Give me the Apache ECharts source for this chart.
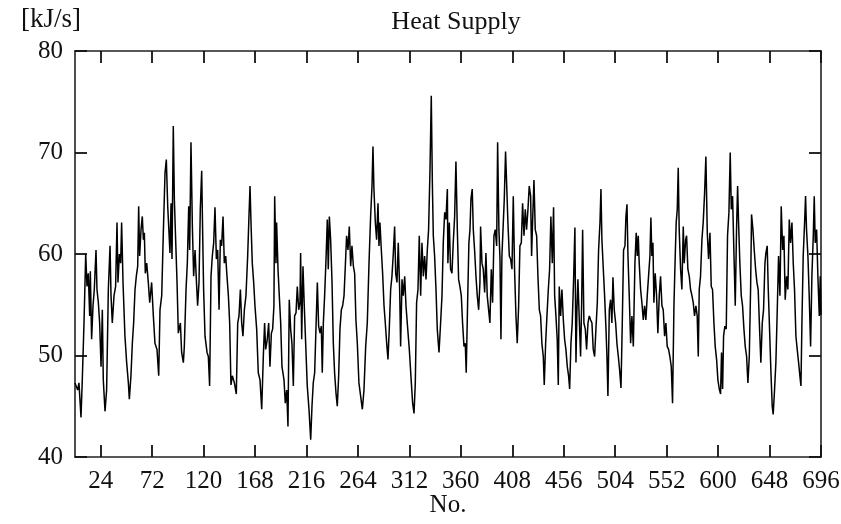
<!DOCTYPE html>
<html>
<head>
<meta charset="utf-8">
<script src="https://cdn.jsdelivr.net/npm/echarts@6/dist/echarts.min.js"></script>
<style>html,body{margin:0;padding:0;background:#fff}#c{width:841px;height:524px}</style>
</head>
<body>
<div id="c"></div>
<script>
// Data: [No., heat supply in kJ/s]
const heatSupply = [
[0,47.3],[2.5,46.6],[3.7,47.3],[5.6,43.9],[6.8,47.6],[8.4,53.2],[10,60],[11.2,56.8],[12.4,58.1],[13.7,53.9],[14.3,58.3],[15.5,51.6],[16.8,54.9],[18,56.5],[19.6,60.4],[20.5,56.5],[21.8,55.2],[23,53.2],[24.3,48.9],[25.5,54.5],[26.4,47.6],[28,44.5],[29.5,46.6],[31.1,56.5],[32.7,60.8],[33.6,55.9],[34.8,53.2],[36.4,55.9],[37.9,56.8],[39.2,63.1],[40.1,57.2],[41.4,60],[42.6,59.1],[43.5,63.1],[44.8,57.2],[46.6,51.9],[48.2,49.3],[49.8,47.3],[50.7,45.7],[52.2,48],[53.5,51.2],[54.7,53.2],[56,56.5],[57.2,57.8],[58.5,58.8],[59.4,64.7],[60.3,59.8],[61.6,62.4],[62.8,63.7],[63.8,61.4],[64.7,62.1],[65.6,58.1],[66.9,59.1],[68.4,57.2],[69.7,55.2],[71.5,57.2],[73.1,53.9],[74.6,51.2],[76.5,50.6],[78.1,48],[79.3,54.5],[80.9,55.9],[82.4,62.1],[84,68],[85.2,69.3],[86.5,64.7],[87.7,62.1],[88.6,60.1],[89.6,65],[90.5,59.5],[91.7,72.6],[92.7,65.4],[93.9,61.4],[95.2,57.2],[96.4,52.2],[98.3,53.2],[99.5,50.3],[101.1,49.3],[102,50.9],[103.6,56.5],[104.8,59.1],[106.1,64.7],[107,60.4],[108.2,71],[109.5,62.7],[110.7,57.8],[112,60.4],[113.2,57.5],[114.4,54.9],[115.7,57.2],[116.9,64.4],[118.2,68.2],[119.1,62.1],[120,56.5],[121.3,51.9],[123.2,50.3],[124.4,49.9],[125.6,47],[126.9,57.8],[128.1,59.8],[129.4,61.1],[130.6,64.6],[131.9,59.5],[133.1,60.4],[134.4,54.5],[135.6,61.4],[136.8,60.8],[138.1,63.7],[139.3,59.1],[140.6,59.8],[141.8,57.8],[143.1,55.9],[144.3,53.2],[145.5,47.1],[146.8,48],[148.7,47.3],[150.5,46.2],[151.8,53.2],[153,53.9],[154.3,56.5],[155.5,53.2],[156.7,51.9],[158,54.5],[159.5,55.9],[161.1,59.8],[162.3,63.7],[163.3,66.7],[164.2,63.1],[165.4,59.1],[166.7,57.2],[167.9,54.9],[169.5,52.6],[171,48.3],[172.6,47.6],[174.2,44.7],
[175.7,49.9],[176.9,53.2],[177.9,50.6],[179.4,51.6],[180.7,53.2],[181.9,48.9],[183.2,52.2],[184.4,52.6],[185.6,54.9],[186.3,65.7],[187.5,59.1],[188.1,63.1],[189.4,58.5],[190.6,55.9],[191.9,53.2],[193.1,48.9],[195,47.6],[196.2,45.3],[197.5,46.6],[198.7,43],[199.9,55.5],[201.2,52.6],[202.4,51.2],[203.7,47],[204.9,53.9],[206.2,54.2],[207.4,56.8],[208.7,54.5],[209.9,55.2],[210.5,60.1],[211.5,51.6],[212.7,58.8],[213.9,54.9],[215.2,51.2],[216.7,47],[218.3,44.7],[219.9,41.7],[221.1,45],[222.3,47.3],[223.6,48.3],[224.8,52.6],[226.1,57.2],[227.3,52.9],[228.6,52.2],[229.8,52.9],[230.7,48.3],[231.7,53.2],[232.9,55.9],[234.2,59.5],[235.4,63.4],[236.3,58.5],[237.3,63.7],[238.5,61.4],[239.8,57.2],[241,51.2],[242.2,48.3],[243.5,46.3],[244.7,45],[246,48],[247.2,52.6],[248.5,54.5],[249.7,54.9],[251,55.9],[252.2,58.8],[253.4,61.8],[254.7,60.4],[255.9,62.7],[257.2,58.8],[258.4,60.8],[259.7,58.8],[260.9,58.1],[262.1,53.5],[263.4,51.2],[264.9,47.3],[266.5,46],[268.1,44.7],[269.6,46.6],[271.2,50.9],[272.7,53.2],[274.3,59.1],[275.8,63.7],[277.1,66.7],[278,70.6],[278.9,66.4],[280.2,63.1],[281.4,61.4],[282.7,65],[283.6,60.8],[284.5,63.1],[285.8,60.4],[287,58.1],[288.3,54.9],[289.5,53.2],[290.8,51.2],[292,49.6],[293.2,52.6],[294.5,56.5],[295.7,57.8],[297,60.1],[298.2,62.7],[299.2,58.1],[300.4,57.2],[301.6,61.1],[302.9,56.5],[303.8,50.9],[305.1,57.5],[306.3,55.9],[307.6,57.8],[308.8,54.9],[310,53.2],[311.9,50.6],[313.8,47.3],[315,45.3],[316.3,44.3],[317.5,47.3],[318.7,55.2],[320,56.5],[321.2,61.8],[322.5,55.9],[323.7,61.1],[325,57.8],[326.2,59.8],[327.5,57.5],[328.7,60.4],[329.9,62.4],[331.2,68.3],[332.4,75.6],[333.4,67],[334.3,61.8],[335.5,59.8],[336.8,56.5],[338,52.6],[339.6,50.3],[341.1,53.2],[342.4,55.9],[343.6,61.1],[344.9,64.1],[346.1,63.4],[347.4,66.4],
[347.9,59.1],[349.2,63.1],[350.4,58.5],[351.7,58.1],[352.9,61.1],[354.2,63.7],[355.4,69.1],[356.7,62.4],[357.9,57.5],[359.1,56.8],[360.4,55.9],[361.6,53.2],[362.9,50.9],[364.1,51.2],[365,48.3],[366.3,55.2],[367.5,61.1],[368.5,62.4],[369.4,65.4],[370.6,66.4],[371.6,62.4],[372.8,60.4],[374.1,57.8],[375.3,55.9],[376.6,54.5],[377.8,57.2],[378.4,62.7],[379.7,59.1],[380.9,58.5],[382.2,56.2],[383.4,60.1],[384.6,55.9],[385.9,54.5],[387.1,53.2],[388.4,58.5],[389.6,55.2],[390.9,61.8],[392.1,62.4],[393.4,60.8],[394.3,71],[395.5,62.4],[396.5,59.5],[397.4,51.6],[398.3,59.8],[399.6,63.1],[400.5,65.4],[401.7,70.1],[402.7,67],[403.9,63.1],[405.2,59.8],[406.4,59.5],[407.7,58.5],[408.9,65.7],[410.1,58.5],[411.4,53.9],[412.6,51.2],[413.9,54.9],[415.1,60.8],[416.4,61.1],[417.6,65],[418.9,61.8],[420.1,64.4],[421.3,62.4],[422.6,64.4],[423.8,66.7],[425.1,65.7],[426,59.8],[426.9,63.1],[428.2,67.3],[429.4,62.4],[430.7,61.8],[431.9,57.8],[433.2,54.5],[434.4,53.9],[435.6,51.2],[436.9,49.9],[437.8,47.1],[439.1,51.2],[440.3,53.9],[441.6,56.5],[442.8,58.5],[444,63.7],[445.3,59.1],[446.5,64.6],[447.5,55.9],[448.7,53.9],[449.9,51.6],[450.9,47.1],[451.8,56.8],[453.1,53.9],[454.3,56.5],[455.6,53.5],[456.8,51.6],[458,50.6],[459.3,48.9],[460.5,48],[461.5,46.7],[462.7,51.2],[463.9,53.2],[465.2,57.5],[466.4,62.6],[467.4,49.3],[468.3,54.5],[469.2,57.5],[470.5,53.5],[471.7,49.9],[472.7,55.2],[473.6,62.4],[474.8,53.2],[476.1,52.6],[477.3,50.6],[478.6,53.2],[479.8,53.9],[481.1,53.5],[482.3,53.2],[483.5,50.6],[484.8,49.9],[486,52.6],[487.3,55.2],[488.5,60.4],[489.8,63.1],[490.7,66.4],[491.6,61.4],[492.9,58.5],[494.1,55.9],[495.4,52.6],[496.3,49.9],[497.2,46],[498.5,54.5],[499.7,55.5],[500.9,53.2],[501.9,57.7],[503.1,54.5],[504.4,53.2],[505.6,51.2],[506.9,49.9],[508.1,48.6],[509.4,46.8],[510.6,53.2],[511.8,60.4],[513.1,60.8],[514,63.7],[515,64.9],[515.9,59.8],[517.1,55.9],[518.4,51.2],[519.6,53.9],[520.9,50.9],
[521.8,55.9],[522.4,59.1],[523.6,62.1],[524.6,59.8],[525.5,61.8],[526.4,59.1],[527.7,56.5],[528.9,55.2],[530.2,53.5],[531.4,54.9],[532.6,53.5],[533.9,55.9],[535.1,57.8],[536.4,59.8],[537.3,63.6],[538.2,59.8],[539.2,61.1],[540.1,55.2],[541.3,58.1],[542.6,55.9],[543.8,52.2],[545.1,55.9],[546.3,57.8],[547.6,54.9],[548.8,54.5],[550.1,51.9],[551.3,53.2],[552.5,50.9],[553.8,50.6],[555,49.9],[556.3,48.9],[557.5,45.3],[558.8,54.9],[560,59.8],[560.9,63.1],[561.9,64.4],[562.8,68.5],[563.7,62.4],[565,58.5],[566.2,56.5],[567.5,62.7],[568.4,59.1],[569.7,61.4],[570.6,61.8],[571.8,58.5],[573.1,57.8],[574.3,56.5],[575.6,55.9],[576.8,55.2],[578,53.9],[579.3,54.9],[580.5,53.9],[581.5,49.9],[582.4,56.5],[583.6,57.8],[584.9,61.4],[586.1,63.1],[587.4,66],[588.6,69.6],[589.9,62.1],[591.1,59.5],[592.4,62.1],[593.6,56.8],[594.8,56.5],[596.1,53.2],[597.3,50.9],[598.6,49.6],[599.8,47.6],[601.1,46.7],[602.3,46.2],[603.2,50.3],[604.2,46.7],[605.1,51.9],[606.3,52.9],[607.6,52.6],[608.8,61.8],[610.1,64.1],[611.3,70],[612.3,64.4],[613.5,65.7],[614.7,60.4],[616,54.9],[617.2,62.4],[618.2,66.7],[619.1,63.1],[620.3,59.1],[621.6,55.9],[622.8,54.9],[624.1,52.6],[625.3,50.9],[626.6,49.9],[627.8,47.3],[629.1,49.9],[630.3,56.5],[631.2,63.9],[632.5,62.4],[633.7,60.4],[635,58.5],[636.2,57.2],[637.4,56.5],[638.7,52.6],[639.9,49.3],[641.2,53.2],[642.4,54.5],[643.7,59.1],[644.6,60.1],[645.8,60.8],[646.8,56.5],[648,52.6],[649.3,48.3],[650.5,45],[651.4,44.2],[652.7,46.7],[653.9,49.3],[655.2,54.5],[656.4,59.8],[657.7,55.9],[658.9,64.7],[660.2,60.4],[661.4,61.8],[662.6,55.5],[663.9,57.8],[665.1,56.5],[666.4,63.4],[667.6,61.1],[668.9,63.1],[670.1,59.1],[671.3,56.5],[672.6,51.9],[673.8,50.6],[675.1,49.3],[676.3,48],[677.3,47],[678.2,53.2],[679.4,59.8],[680.7,63.1],[681.6,65.7],[682.5,62.4],[683.8,59.8],[685,55.9],[686.3,50.9],[687.5,57.8],[688.8,61.8],[689.7,65.7],[690.6,61.1],[691.9,62.4],[693.1,57.8],[694.4,53.9],[695.3,57.8],[696,54]
];
const xTicks = [24,72,120,168,216,264,312,360,408,456,504,552,600,648,696];
const yTicks = [40,50,60,70,80];
const titleText = 'Heat Supply';
const yUnit = '[kJ/s]';
const xName = 'No.';

const FONT = 'Liberation Serif';
const FS = 25;
const axisLineStyle = {color:'#222', width:1.6};
const tickStyle = {color:'#111', width:1.8};
const chart = echarts.init(document.getElementById('c'), null, {renderer:'canvas'});
chart.setOption({
  animation:false,
  backgroundColor:'#fff',
  title:{text:titleText, left:451, top:4, textAlign:'center',
    textStyle:{fontFamily:FONT, fontSize:26, fontWeight:'normal', color:'#111'}},
  grid:{left:75, right:20, top:51, bottom:67, containLabel:false, outerBoundsMode:'none'},
  xAxis:[{
    type:'value', min:0, max:696, position:'bottom',
    name:xName, nameLocation:'middle', nameGap:36, nameMoveOverlap:false,
    nameTextStyle:{fontFamily:FONT, fontSize:FS, color:'#111'},
    axisLine:{show:true, onZero:false, lineStyle:axisLineStyle},
    axisTick:{show:true, inside:true, length:12, customValues:xTicks, lineStyle:tickStyle},
    axisLabel:{show:true, customValues:xTicks, margin:12, fontFamily:FONT, fontSize:FS, color:'#111'},
    splitLine:{show:false}
  },{
    type:'value', min:0, max:696, position:'top',
    axisLine:{show:true, onZero:false, lineStyle:axisLineStyle},
    axisTick:{show:true, inside:true, length:12, customValues:xTicks, lineStyle:tickStyle},
    axisLabel:{show:false},
    splitLine:{show:false}
  }],
  yAxis:[{
    type:'value', min:40, max:80, interval:10, position:'left',
    name:yUnit, nameLocation:'end', nameGap:18, nameMoveOverlap:false,
    nameTextStyle:{fontFamily:FONT, fontSize:27, color:'#111', align:'right', verticalAlign:'bottom', padding:[0,-6,0,0]},
    axisLine:{show:true, onZero:false, lineStyle:axisLineStyle},
    axisTick:{show:true, inside:true, length:12, lineStyle:tickStyle},
    axisLabel:{show:true, margin:12, fontFamily:FONT, fontSize:FS, color:'#111'},
    splitLine:{show:false}
  },{
    type:'value', min:40, max:80, interval:10, position:'right',
    axisLine:{show:true, onZero:false, lineStyle:axisLineStyle},
    axisTick:{show:true, inside:true, length:12, lineStyle:tickStyle},
    axisLabel:{show:false},
    splitLine:{show:false}
  }],
  series:[{
    type:'line', data:heatSupply, showSymbol:false, symbol:'none',
    lineStyle:{color:'#000', width:1.5}, silent:true
  }]
});
</script>
</body>
</html>
